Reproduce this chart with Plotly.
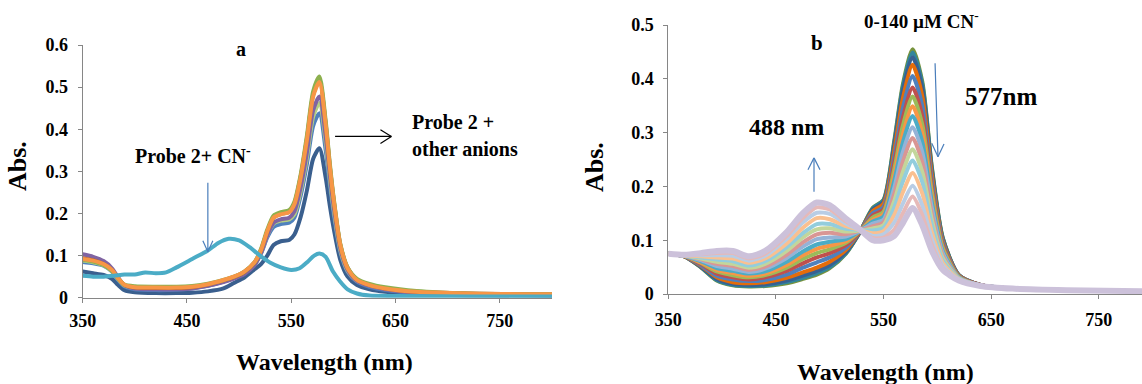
import plotly.graph_objects as go

W, H = 1142, 384
FONT = "Liberation Serif"

# ---------------- panel a : probe 2 with various anions ----------------
a_wl = [350, 360, 370, 378, 384, 390, 400, 420, 440, 455, 470, 485, 495, 505, 515, 521, 527, 533,
        540, 548, 553, 559, 565, 571, 577, 583, 587, 591, 597, 604, 613, 625, 640, 670, 720, 800]
a_navy = [0.062, 0.058, 0.054, 0.045, 0.030, 0.018, 0.013, 0.011, 0.011, 0.012, 0.015, 0.022, 0.035, 0.048,
          0.068, 0.080, 0.100, 0.125, 0.134, 0.137, 0.150, 0.192, 0.255, 0.330, 0.355, 0.285, 0.218, 0.160,
          0.090, 0.050, 0.030, 0.020, 0.014, 0.009, 0.006, 0.005]
a_blue = [0.085, 0.082, 0.076, 0.062, 0.042, 0.027, 0.020, 0.018, 0.019, 0.022, 0.028, 0.038, 0.047, 0.058,
          0.080, 0.105, 0.143, 0.168, 0.175, 0.178, 0.190, 0.242, 0.318, 0.408, 0.438, 0.350, 0.266, 0.193,
          0.108, 0.062, 0.038, 0.026, 0.018, 0.011, 0.007, 0.006]
a_lightgreen = [0.088, 0.084, 0.077, 0.063, 0.044, 0.029, 0.023, 0.022, 0.022, 0.024, 0.030, 0.039, 0.047, 0.058,
                0.080, 0.107, 0.148, 0.176, 0.183, 0.186, 0.198, 0.253, 0.333, 0.430, 0.462, 0.370, 0.280, 0.203,
                0.113, 0.064, 0.040, 0.029, 0.021, 0.013, 0.009, 0.007]
a_purple = [0.103, 0.097, 0.087, 0.070, 0.048, 0.030, 0.022, 0.020, 0.020, 0.022, 0.028, 0.037, 0.045, 0.056,
            0.078, 0.106, 0.148, 0.178, 0.186, 0.190, 0.205, 0.262, 0.345, 0.445, 0.478, 0.383, 0.290, 0.210,
            0.117, 0.066, 0.040, 0.028, 0.020, 0.012, 0.008, 0.006]
a_green = [0.090, 0.086, 0.078, 0.064, 0.045, 0.031, 0.027, 0.026, 0.026, 0.028, 0.033, 0.042, 0.050, 0.062,
           0.085, 0.116, 0.162, 0.195, 0.203, 0.208, 0.228, 0.292, 0.385, 0.490, 0.525, 0.420, 0.318, 0.230,
           0.128, 0.072, 0.045, 0.033, 0.025, 0.016, 0.010, 0.008]
a_red = [0.094, 0.089, 0.080, 0.066, 0.046, 0.030, 0.024, 0.023, 0.023, 0.025, 0.031, 0.041, 0.049, 0.061,
         0.084, 0.113, 0.158, 0.190, 0.199, 0.204, 0.224, 0.288, 0.378, 0.482, 0.516, 0.413, 0.312, 0.226,
         0.126, 0.071, 0.043, 0.030, 0.022, 0.014, 0.010, 0.008]
a_orange = [0.092, 0.088, 0.080, 0.066, 0.046, 0.031, 0.025, 0.024, 0.024, 0.026, 0.032, 0.042, 0.050, 0.062,
            0.085, 0.113, 0.158, 0.190, 0.198, 0.203, 0.222, 0.285, 0.375, 0.478, 0.512, 0.410, 0.310, 0.225,
            0.125, 0.070, 0.042, 0.030, 0.022, 0.014, 0.010, 0.008]
a_cn_wl = [350, 360, 370, 380, 390, 400, 410, 420, 430, 440, 455, 470, 480, 490, 500, 510, 520, 530, 540,
           550, 558, 566, 572, 577, 583, 590, 597, 604, 613, 625, 650, 720, 800]
a_cn = [0.052, 0.050, 0.050, 0.052, 0.055, 0.055, 0.060, 0.058, 0.060, 0.072, 0.092, 0.112, 0.130, 0.140,
        0.136, 0.120, 0.100, 0.083, 0.072, 0.066, 0.070, 0.086, 0.100, 0.105, 0.097, 0.062, 0.038, 0.020,
        0.010, 0.005, 0.004, 0.003, 0.003]

a_series = [
    (a_navy, "#3A5F8E"), (a_blue, "#4F81BD"), (a_lightgreen, "#B5CF82"), (a_purple, "#8064A2"),
    (a_red, "#B0603A"), (a_green, "#8DB04E"), (a_orange, "#F79646"),
]

# ---------------- panel b : titration with CN- (0-140 uM) ----------------
b_wl = [350, 365, 380, 395, 410, 425, 440, 460, 475, 488, 500, 515, 528, 540, 550, 560, 568, 577, 586,
        595, 605, 620, 640, 670, 720, 800]
b_spectra = [
    [.075, .070, .050, .025, .016, .014, .015, .020, .028, .036, .048, .075, .115, .160, .175, .285, .390, .455, .395, .235, .105, .035, .017, .010, .007, .005],
    [.075, .070, .051, .026, .017, .015, .016, .022, .030, .039, .050, .076, .115, .159, .174, .281, .385, .449, .390, .232, .104, .035, .017, .010, .007, .005],
    [.075, .070, .051, .028, .019, .017, .018, .025, .034, .043, .054, .078, .115, .157, .171, .276, .377, .440, .382, .227, .102, .035, .017, .010, .007, .005],
    [.075, .070, .053, .031, .022, .020, .022, .030, .040, .049, .060, .082, .116, .154, .168, .267, .364, .426, .368, .220, .099, .034, .017, .010, .007, .005],
    [.075, .071, .054, .034, .027, .024, .026, .036, .049, .059, .068, .086, .116, .150, .162, .255, .346, .405, .350, .209, .095, .033, .017, .010, .007, .005],
    [.075, .071, .056, .038, .031, .027, .031, .043, .057, .068, .076, .091, .116, .146, .157, .243, .328, .384, .331, .198, .091, .033, .017, .010, .007, .005],
    [.075, .071, .058, .042, .035, .031, .035, .049, .065, .076, .083, .095, .117, .142, .153, .232, .313, .367, .315, .189, .087, .032, .016, .010, .007, .005],
    [.075, .071, .059, .045, .039, .034, .038, .054, .072, .084, .090, .098, .117, .138, .148, .221, .297, .349, .299, .179, .083, .031, .016, .010, .007, .005],
    [.075, .071, .061, .048, .043, .038, .042, .060, .079, .092, .097, .102, .117, .135, .144, .211, .282, .331, .283, .170, .080, .031, .016, .010, .007, .005],
    [.075, .071, .063, .052, .047, .041, .047, .067, .088, .102, .105, .107, .117, .131, .138, .198, .264, .310, .264, .159, .076, .030, .016, .010, .007, .005],
    [.075, .072, .065, .056, .052, .045, .051, .073, .096, .111, .114, .111, .118, .126, .133, .186, .246, .290, .245, .148, .071, .029, .016, .010, .007, .005],
    [.075, .072, .066, .060, .056, .049, .056, .080, .105, .120, .122, .116, .118, .122, .128, .173, .227, .269, .227, .137, .067, .029, .016, .010, .007, .005],
    [.075, .072, .068, .064, .061, .053, .061, .087, .113, .130, .130, .121, .119, .118, .123, .161, .209, .248, .208, .127, .063, .028, .016, .010, .007, .005],
    [.075, .072, .070, .068, .066, .058, .066, .094, .123, .141, .139, .126, .119, .113, .117, .147, .189, .225, .187, .114, .058, .027, .015, .010, .007, .005],
    [.075, .073, .072, .072, .071, .062, .071, .102, .133, .151, .149, .131, .119, .108, .111, .133, .168, .201, .165, .102, .053, .026, .015, .010, .007, .005],
    [.075, .073, .074, .076, .076, .066, .075, .108, .141, .161, .157, .135, .120, .104, .105, .120, .150, .181, .147, .091, .049, .026, .015, .010, .007, .005],
    [.075, .073, .076, .080, .080, .070, .080, .115, .150, .170, .165, .140, .120, .100, .100, .108, .132, .160, .128, .080, .045, .025, .015, .010, .007, .005],
]
b_colors = ["#77933C", "#31859C", "#376092", "#E46C0A", "#4F81BD", "#C0504D", "#9BBB59", "#F79646",
            "#4BACC6", "#95B3D7", "#D99694", "#C3D69B", "#93CDDD", "#FAC090", "#B9CDE5", "#E6B9B8", "#CCC1DA"]

x_ticks = [350, 450, 550, 650, 750]
a_yticks = [0, 0.1, 0.2, 0.3, 0.4, 0.5, 0.6]
b_yticks = [0, 0.1, 0.2, 0.3, 0.4, 0.5]

fig = go.Figure()

for vals, col in a_series:
    fig.add_trace(go.Scatter(x=a_wl, y=vals, mode="lines", xaxis="x", yaxis="y",
                             line=dict(color=col, width=4, shape="spline", smoothing=0.7),
                             showlegend=False, hoverinfo="skip"))
fig.add_trace(go.Scatter(x=a_cn_wl, y=a_cn, mode="lines", xaxis="x", yaxis="y",
                         line=dict(color="#4BACC6", width=4, shape="spline", smoothing=0.7),
                         showlegend=False, hoverinfo="skip"))

for i, (vals, col) in enumerate(zip(b_spectra, b_colors)):
    w = 6 if i == len(b_spectra) - 1 else 4
    fig.add_trace(go.Scatter(x=b_wl, y=vals, mode="lines", xaxis="x2", yaxis="y2",
                             line=dict(color=col, width=w, shape="spline", smoothing=0.7),
                             showlegend=False, hoverinfo="skip"))


def px(x):
    """pixel column -> paper fraction"""
    return x / W


def py(y):
    """pixel row (from top) -> paper fraction"""
    return 1 - y / H


axis_common = dict(showline=True, linecolor="#868686", linewidth=1, showgrid=False, zeroline=False,
                   ticks="outside", ticklen=4, tickcolor="#868686", automargin=False,
                   tickfont=dict(family=FONT, size=18, color="black", weight="bold"))

fig.update_layout(
    width=W, height=H, margin=dict(l=0, r=0, t=0, b=0, autoexpand=False),
    paper_bgcolor="white", plot_bgcolor="white",
    font=dict(family=FONT, color="black"),
    xaxis=dict(domain=[px(82.7), px(552)], range=[350, 800], tickvals=x_ticks,
               anchor="y", ticklabelstandoff=3, **axis_common),
    yaxis=dict(domain=[py(297.7), py(45)], range=[0, 0.6], tickvals=a_yticks,
               ticktext=["0"] + [f"{v:.1f}" for v in a_yticks[1:]],
               anchor="x", ticklabelstandoff=6, **axis_common),
    xaxis2=dict(domain=[px(668.3), 1.0], range=[350, 790.2], tickvals=x_ticks,
                anchor="y2", ticklabelstandoff=5, **axis_common),
    yaxis2=dict(domain=[py(294), py(25)], range=[0, 0.5], tickvals=b_yticks,
                ticktext=["0"] + [f"{v:.1f}" for v in b_yticks[1:]],
                anchor="x2", ticklabelstandoff=6, **axis_common),
)


def label(text, x, y, size, angle=0, xanchor="center"):
    fig.add_annotation(text=text, x=px(x), y=py(y), xref="paper", yref="paper",
                       xanchor=xanchor, yanchor="middle", showarrow=False, textangle=angle,
                       font=dict(family=FONT, size=size, color="black", weight="bold"))


label("Abs.", 17, 166, 26, angle=-90)
label("Abs.", 595, 167, 26, angle=-90)
label("Wavelength (nm)", 324, 362, 24)
label("Wavelength (nm)", 885, 372, 24)
label("a", 241, 49, 20)
label("b", 817, 43, 21)
label("Probe 2+ CN<sup>-</sup>", 133, 155, 20, xanchor="left")
label("Probe 2 +", 410, 122, 20, xanchor="left")
label("other anions", 410, 149, 20, xanchor="left")
label("0-140 µM CN<sup>-</sup>", 862, 20, 19, xanchor="left")
label("488 nm", 786, 127, 24)
label("577nm", 1001, 96, 25)


def arrow(x0, y0, x1, y1, wings, xref, yref, color, width=1.2):
    fig.add_shape(type="line", x0=x0, y0=y0, x1=x1, y1=y1, xref=xref, yref=yref,
                  line=dict(color=color, width=width))
    for wx, wy in wings:
        fig.add_shape(type="line", x0=wx, y0=wy, x1=x1, y1=y1, xref=xref, yref=yref,
                      line=dict(color=color, width=width))


arrow(470, 0.273, 470, 0.109, [(465.2, 0.135), (474.8, 0.135)], "x", "y", "#4A7EBB")
arrow(592, 0.383, 646, 0.383, [(635.5, 0.399), (635.5, 0.366)], "x", "y", "black")
arrow(485.4, 0.19, 485.4, 0.253, [(479.8, 0.231), (491.0, 0.231)], "x2", "y2", "#4A7EBB")
arrow(597.9, 0.429, 600.6, 0.255, [(594.8, 0.280), (606.2, 0.279)], "x2", "y2", "#4A7EBB")

fig.write_html("out.html")
